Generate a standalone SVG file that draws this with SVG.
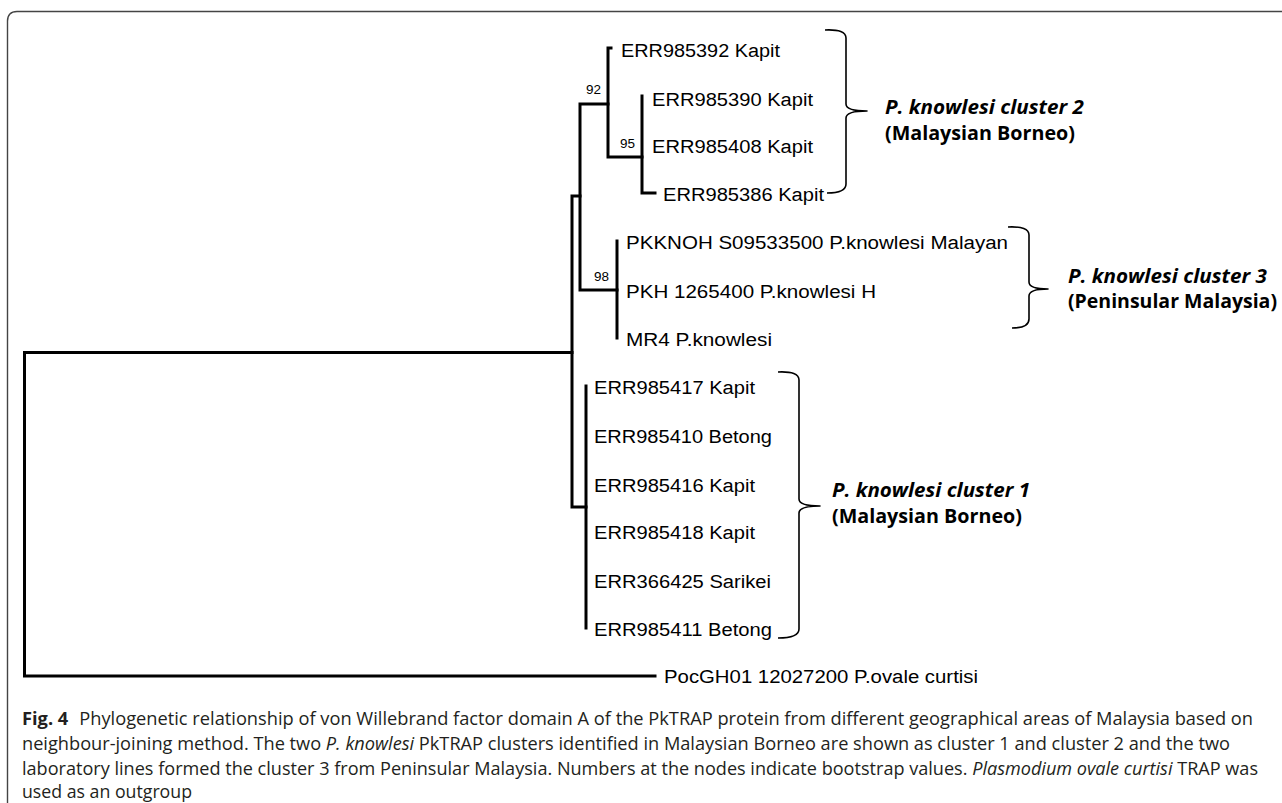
<svg xmlns="http://www.w3.org/2000/svg" width="1282" height="803" viewBox="0 0 1282 803">
<style>
.br{fill:none;stroke:#000;stroke-width:3;stroke-linejoin:miter;stroke-linecap:square}
.bk{fill:none;stroke:#000;stroke-width:1.6;stroke-linejoin:round}
.lb{font-family:"Liberation Sans",Arial,sans-serif;font-size:18px;fill:#000}
.bs{font-family:"Liberation Sans",Arial,sans-serif;font-size:12px;fill:#000}
.cl{font-family:"Open Sans","Noto Sans",sans-serif;font-size:20px;font-weight:bold;fill:#000}
.cap{font-family:"Open Sans","Noto Sans",sans-serif;font-size:17.5px;fill:#231f20}
</style>
<rect width="1282" height="803" fill="#fff"/>
<path d="M7.5 803 V21 Q7.5 11.5 17 11.5 H1282" fill="none" stroke="#444" stroke-width="1.4"/>

<g id="connectors">
<path class="br" d="M655 676 H24.5 V352.5 H572"/>
<path class="br" d="M580 196 H572 V507 H586"/>
<path class="br" d="M608 104 H580 V290 H617"/>
<path class="br" d="M611 48 H608 V157 H642"/>
<path class="br" d="M642 96 V193 H655"/>
<path class="br" d="M617 241 V338"/>
<path class="br" d="M586 386 V628"/>
</g>

<g id="bootstrap">
<text class="bs" x="586" y="94" textLength="15" lengthAdjust="spacingAndGlyphs">92</text>
<text class="bs" x="620" y="148" textLength="15" lengthAdjust="spacingAndGlyphs">95</text>
<text class="bs" x="594" y="281" textLength="15" lengthAdjust="spacingAndGlyphs">98</text>
</g>

<g id="leaves">
<text id="n1" class="lb" x="621" y="57" textLength="159" lengthAdjust="spacingAndGlyphs">ERR985392 Kapit</text>
<text id="n2" class="lb" x="652" y="106" textLength="161" lengthAdjust="spacingAndGlyphs">ERR985390 Kapit</text>
<text id="n3" class="lb" x="652" y="153" textLength="161" lengthAdjust="spacingAndGlyphs">ERR985408 Kapit</text>
<text id="n4" class="lb" x="663" y="201" textLength="161" lengthAdjust="spacingAndGlyphs">ERR985386 Kapit</text>
<text id="n5" class="lb" x="626" y="249" textLength="382" lengthAdjust="spacingAndGlyphs">PKKNOH S09533500 P.knowlesi Malayan</text>
<text id="n6" class="lb" x="626" y="298" textLength="250" lengthAdjust="spacingAndGlyphs">PKH 1265400 P.knowlesi H</text>
<text id="n7" class="lb" x="626" y="346" textLength="146" lengthAdjust="spacingAndGlyphs">MR4 P.knowlesi</text>
<text id="n8" class="lb" x="594" y="394" textLength="161" lengthAdjust="spacingAndGlyphs">ERR985417 Kapit</text>
<text id="n9" class="lb" x="594" y="443" textLength="178" lengthAdjust="spacingAndGlyphs">ERR985410 Betong</text>
<text id="n10" class="lb" x="594" y="492" textLength="161" lengthAdjust="spacingAndGlyphs">ERR985416 Kapit</text>
<text id="n11" class="lb" x="594" y="539" textLength="161" lengthAdjust="spacingAndGlyphs">ERR985418 Kapit</text>
<text id="n12" class="lb" x="594" y="588" textLength="177" lengthAdjust="spacingAndGlyphs">ERR366425 Sarikei</text>
<text id="n13" class="lb" x="594" y="636" textLength="178" lengthAdjust="spacingAndGlyphs">ERR985411 Betong</text>
<text id="n14" class="lb" x="664" y="683" textLength="314" lengthAdjust="spacingAndGlyphs">PocGH01 12027200 P.ovale curtisi</text>
</g>

<g id="cluster2">
<path class="bk" d="M825 30 Q846 29 846 38 V104 Q846 111 867 111 Q846 111 846 118 V184 Q846 193 827 193"/>
<text class="cl" x="885" y="114" font-style="italic" textLength="199" lengthAdjust="spacingAndGlyphs">P. knowlesi cluster 2</text>
<text class="cl" x="885" y="140" textLength="190" lengthAdjust="spacingAndGlyphs">(Malaysian Borneo)</text>
</g>

<g id="cluster3">
<path class="bk" d="M1008 227 Q1029 226 1029 235 V282 Q1029 289 1048 289 Q1029 289 1029 296 V319 Q1029 328 1012 328"/>
<text class="cl" x="1068" y="283" font-style="italic" textLength="199" lengthAdjust="spacingAndGlyphs">P. knowlesi cluster 3</text>
<text class="cl" x="1068" y="308" textLength="209" lengthAdjust="spacingAndGlyphs">(Peninsular Malaysia)</text>
</g>

<g id="cluster1">
<path class="bk" d="M778 372 Q799 371 799 380 V499 Q799 506 820 506 Q799 506 799 513 V629 Q799 638 778 638"/>
<text class="cl" x="832" y="497" font-style="italic" textLength="198" lengthAdjust="spacingAndGlyphs">P. knowlesi cluster 1</text>
<text class="cl" x="832" y="523" textLength="190" lengthAdjust="spacingAndGlyphs">(Malaysian Borneo)</text>
</g>

<g id="caption">
<text class="cap" x="22" y="725" textLength="1231" lengthAdjust="spacingAndGlyphs"><tspan font-weight="bold">Fig. 4</tspan><tspan dx="6"> Phylogenetic relationship of von Willebrand factor domain A of the PkTRAP protein from different geographical areas of Malaysia based on</tspan></text>
<text class="cap" x="22" y="750" textLength="1208" lengthAdjust="spacingAndGlyphs">neighbour-joining method. The two <tspan font-style="italic">P. knowlesi</tspan> PkTRAP clusters identified in Malaysian Borneo are shown as cluster 1 and cluster 2 and the two</text>
<text class="cap" x="22" y="775" textLength="1236" lengthAdjust="spacingAndGlyphs">laboratory lines formed the cluster 3 from Peninsular Malaysia. Numbers at the nodes indicate bootstrap values. <tspan font-style="italic">Plasmodium ovale curtisi</tspan> TRAP was</text>
<text class="cap" x="22" y="798" textLength="170" lengthAdjust="spacingAndGlyphs">used as an outgroup</text>
</g>
</svg>
